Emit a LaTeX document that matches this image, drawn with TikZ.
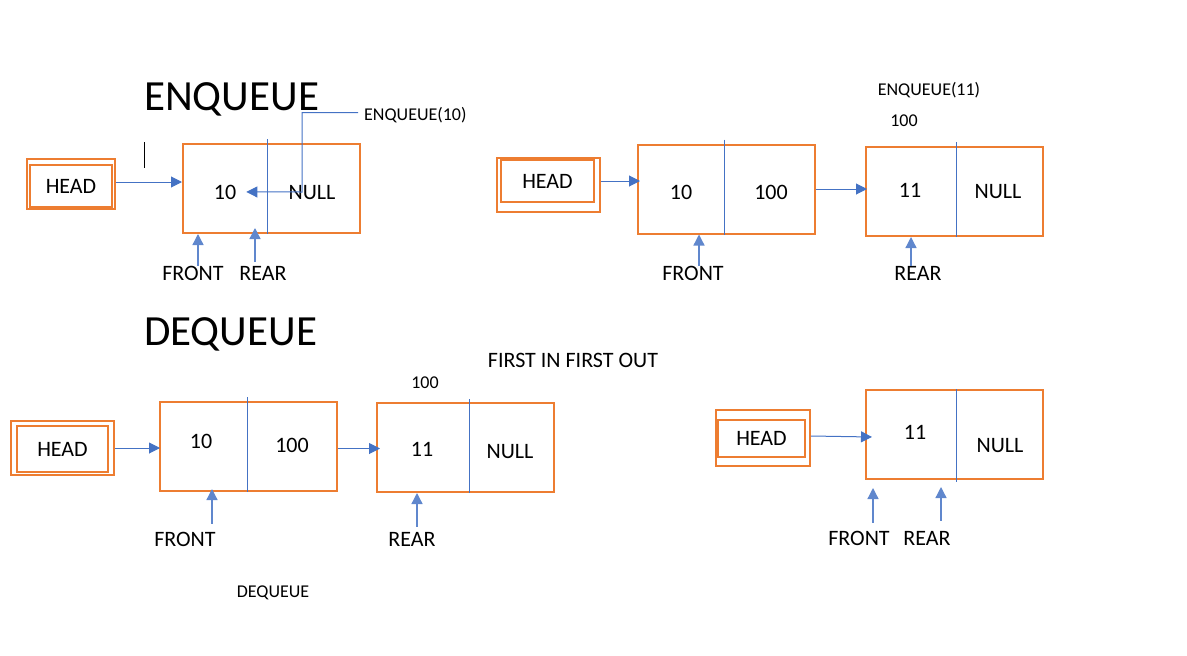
\documentclass[tikz,border=0pt]{standalone}
\usepackage{fontspec}
\setmainfont{Carlito}
\usepackage{xcolor}
\usetikzlibrary{arrows.meta, positioning, calc}
\definecolor{qorange}{RGB}{237,125,49}
\definecolor{qblue}{RGB}{68,114,196}

\begin{document}
\begin{tikzpicture}[x=1pt, y=-1pt, >={Triangle[length=11pt,width=11pt]},
  cell/.style={draw=qorange, line width=2pt, minimum width=177pt, minimum height=89pt, inner sep=0pt},
  headbox/.style={draw=qorange, line width=2pt, inner sep=0pt, font=\fontsize{22}{26}\selectfont},
  val/.style={inner sep=0pt, anchor=base, font=\fontsize{22}{26}\selectfont},
  small/.style={inner sep=0pt, anchor=base, font=\fontsize{18}{22}\selectfont},
  big/.style={inner sep=0pt, anchor=base west, font=\fontsize{43}{52}\selectfont},
  div/.style={draw=qblue, line width=1pt},
  link/.style={->, draw=qblue, line width=1pt},
  ptr/.style={->, draw=qblue!85, line width=1.3pt}]
  \useasboundingbox (0,0) rectangle (1187,656);

  % enqueue(10)
  \node[big] (T1) at (144,110) {ENQUEUE};
  \draw (144,142) -- (144,168);
  \node[headbox, minimum width=88pt, minimum height=50pt] (H1) at (71,184) {};
  \node[headbox, minimum width=82pt, minimum height=42pt] (h1) at (71,186) {HEAD};
  \node[cell] (N1) at (271.5,188.5) {};
  \draw[div] ([xshift=85pt,yshift=4pt]N1.north west) -- ([xshift=85pt]N1.south west);
  \node[val] (v1a) at (225,199) {10};
  \node[val] (v1b) at (312,199) {NULL};
  \node[small, anchor=base west] (Q1) at (364,120) {ENQUEUE(10)};
  \coordinate (bend) at (302,192);
  \draw[link] ([xshift=-6pt,yshift=2pt]Q1.west) -| (bend) -- ([xshift=10pt]v1a.east);
  \draw[link] ([yshift=2pt]H1.east) -- ([yshift=2pt]H1.east -| N1.west);
  \node[val] (F1) at (193,280) {FRONT};
  \node[val] (R1) at (263,280) {REAR};
  \draw[ptr] ([xshift=5pt]F1.north) -- ([xshift=5pt]F1.north |- N1.south);
  \draw[ptr] ([xshift=-8pt,yshift=4pt]R1.north) -- ([xshift=-8pt,yshift=6pt]R1.north |- N1.south);

  % enqueue(11)
  \node[small] (Q2) at (929,95) {ENQUEUE(11)};
  \node[small] (a2) at (904,126) {100};
  \node[headbox, minimum width=103pt, minimum height=54pt] (H2) at (548.5,185) {};
  \node[headbox, minimum width=93pt, minimum height=42pt] (h2) at (547.5,181) {HEAD};
  \node[cell] (N2a) at (726.5,189) {};
  \node[cell] (N2b) at (954.5,191.5) {};
  \draw[div] ([xshift=87pt,yshift=4pt]N2a.north west) -- ([xshift=87pt]N2a.south west);
  \draw[div] ([xshift=91pt,yshift=4pt]N2b.north west) -- ([xshift=91pt]N2b.south west);
  \node[val] (v2a) at (681,199) {10};
  \node[val] (v2b) at (771,199) {100};
  \node[val] (v2c) at (910,197) {11};
  \node[val] (v2d) at (998,198) {NULL};
  \draw[link] ([yshift=4pt]H2.east) -- ([yshift=4pt,xshift=3pt]H2.east -| N2a.west);
  \draw[link] (N2a.east) -- ([xshift=2pt]N2a.east -| N2b.west);
  \node[val] (F2) at (693,280) {FRONT};
  \node[val] (R2) at (918,280) {REAR};
  \draw[ptr] ([xshift=6pt]F2.north) -- ([xshift=6pt]F2.north |- N2a.south);
  \draw[ptr] ([xshift=-7pt]R2.north) -- ([xshift=-7pt]R2.north |- N2b.south);

  % dequeue
  \node[big] (T2) at (144,345) {DEQUEUE};
  \node[val] (fifo) at (573,367) {FIRST IN FIRST OUT};
  \node[small] (a3) at (425,388) {100};
  \node[headbox, minimum width=103pt, minimum height=54pt] (H3) at (62.5,448) {};
  \node[headbox, minimum width=91pt, minimum height=46pt] (h3) at (62.5,449) {HEAD};
  \node[cell] (N3a) at (248.5,446.5) {};
  \node[cell] (N3b) at (465.5,447.5) {};
  \draw[div] ([xshift=88pt,yshift=4pt]N3a.north west) -- ([xshift=88pt]N3a.south west);
  \draw[div] ([xshift=93pt,yshift=3pt]N3b.north west) -- ([xshift=93pt]N3b.south west);
  \node[val] (v3a) at (201,448) {10};
  \node[val] (v3b) at (292,452) {100};
  \node[val] (v3c) at (422,456) {11};
  \node[val] (v3d) at (510,458) {NULL};
  \draw[link] (H3.east) -- ([xshift=1pt]H3.east -| N3a.west);
  \draw[link] ([yshift=-2pt]N3a.east) -- ([yshift=-2pt,xshift=4pt]N3a.east -| N3b.west);
  \node[val] (F3) at (185,546) {FRONT};
  \node[val] (R3) at (412,546) {REAR};
  \draw[ptr] ([xshift=27pt,yshift=8pt]F3.north) -- ([xshift=27pt,yshift=3pt]F3.north |- N3a.south);
  \draw[ptr] ([xshift=5pt,yshift=5pt]R3.north) -- ([xshift=5pt]R3.north |- N3b.south);
  \node[small] (deq) at (273,597) {DEQUEUE};

  % after dequeue
  \node[headbox, minimum width=94pt, minimum height=56pt] (H4) at (763,438) {};
  \node[headbox, minimum width=87pt, minimum height=37pt] (h4) at (761.5,438.5) {HEAD};
  \node[cell] (N4) at (954.5,434.5) {};
  \draw[div] ([xshift=91pt]N4.north west) -- ([xshift=91pt,yshift=-2pt]N4.south west);
  \node[val] (v4a) at (915,439) {11};
  \node[val] (v4b) at (1000,452) {NULL};
  \draw[link] ([yshift=2pt]H4.east) -- ([yshift=1pt,xshift=7pt]H4.east -| N4.west);
  \node[val] (F4) at (859,545) {FRONT};
  \node[val] (R4) at (927,545) {REAR};
  \draw[ptr] ([xshift=14pt,yshift=8pt]F4.north) -- ([xshift=14pt,yshift=-8pt]F4.north |- N4.south);
  \draw[ptr] ([xshift=14pt,yshift=10pt]R4.north) -- ([xshift=14pt,yshift=-7pt]R4.north |- N4.south);
\end{tikzpicture}
\end{document}
